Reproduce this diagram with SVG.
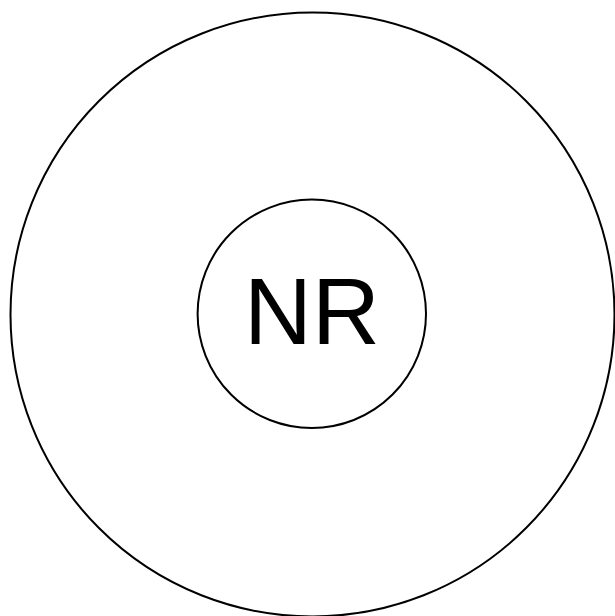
<svg xmlns="http://www.w3.org/2000/svg" width="615" height="616" viewBox="0 0 615 616">
<style>
.c{fill:none;stroke:#000;stroke-width:2}
.t{font-family:"Liberation Sans",Arial,sans-serif;font-size:94px;fill:#000;text-anchor:middle}
</style>
<rect width="615" height="616" fill="#fff"/>
<g id="outer"><circle class="c" cx="312.5" cy="314.5" r="302"/></g>
<g id="inner"><circle class="c" cx="311.8" cy="313.8" r="114.2"/>
<text class="t" x="312" y="344">NR</text></g>
</svg>
